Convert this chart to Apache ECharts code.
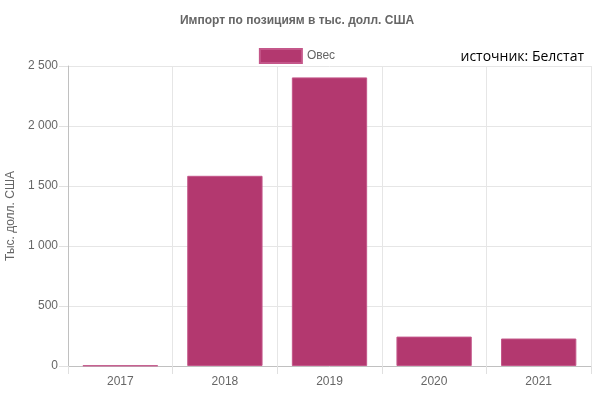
<!DOCTYPE html>
<html>
<head>
<meta charset="utf-8">
<script src="https://cdn.jsdelivr.net/npm/echarts@6/dist/echarts.min.js"></script>
<style>html,body{margin:0;padding:0;background:#fff}#c{width:594px;height:396px}</style>
</head>
<body>
<div id="c"></div>
<script>
const categories = ['2017', '2018', '2019', '2020', '2021'];
const seriesName = 'Овес';
const values = [4, 1585, 2405, 245, 229];
const yTicks = { min: 0, max: 2500, interval: 500 };
const titleText = 'Импорт по позициям в тыс. долл. США';
const yAxisName = 'Тыс. долл. США';
const sourceText = 'источник: Белстат';

const chart = echarts.init(document.getElementById('c'), null, { renderer: 'canvas' });
const font = 'Liberation Sans, Arial, sans-serif';
chart.setOption({
  animation: false,
  title: {
    text: titleText,
    left: 'center',
    top: 10,
    textStyle: { fontFamily: font, fontSize: 12, fontWeight: 'bold', color: '#666' }
  },
  legend: {
    data: [seriesName],
    left: 'center',
    top: 43,
    itemWidth: 42,
    itemHeight: 14,
    itemGap: 5,
    icon: 'rect',
    textStyle: { fontFamily: font, fontSize: 12, color: '#666' }
  },
  graphic: [{
    type: 'text',
    right: 10,
    top: 50,
    style: { text: sourceText, font: '14px "Open Sans", sans-serif', fill: '#000' }
  }],
  grid: { left: 68, right: 3, top: 66, bottom: 30, containLabel: false, outerBoundsMode: 'none' },
  xAxis: {
    type: 'category',
    data: categories,
    boundaryGap: true,
    axisLine: { lineStyle: { color: '#c0c0c0' } },
    axisTick: { show: true, length: 8, lineStyle: { color: '#e0e0e0' } },
    splitLine: { show: true, lineStyle: { color: '#e6e6e6' } },
    axisLabel: { fontFamily: font, fontSize: 12, color: '#666', margin: 10 }
  },
  yAxis: {
    type: 'value',
    min: yTicks.min,
    max: yTicks.max,
    interval: yTicks.interval,
    name: yAxisName,
    nameLocation: 'middle',
    nameGap: 48,
    nameTextStyle: { fontFamily: font, fontSize: 12, color: '#666' },
    axisLine: { show: true, lineStyle: { color: '#c0c0c0' } },
    axisTick: { show: true, length: 9, lineStyle: { color: '#e0e0e0' } },
    splitLine: { show: true, lineStyle: { color: '#e6e6e6' } },
    axisLabel: {
      fontFamily: font, fontSize: 12, color: '#666', margin: 10,
      formatter: v => String(v).replace(/\B(?=(\d{3})+(?!\d))/g, ' ')
    }
  },
  series: [{
    name: seriesName,
    type: 'bar',
    data: values,
    barCategoryGap: '28%',
    itemStyle: { color: '#b3386f', borderColor: '#c4578a', borderWidth: 1 }
  }]
});
</script>
</body>
</html>
